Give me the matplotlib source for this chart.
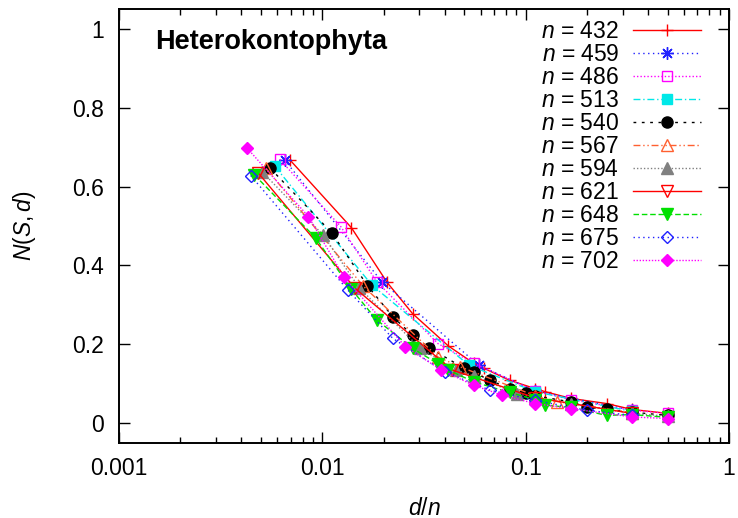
import matplotlib
matplotlib.use('Agg')
import matplotlib.pyplot as plt
import numpy as np

plt.rcParams['font.family'] = ['Liberation Sans', 'DejaVu Sans']
plt.rcParams['mathtext.fontset'] = 'custom'
plt.rcParams['mathtext.rm'] = 'Liberation Sans'
plt.rcParams['mathtext.it'] = 'Liberation Sans:italic'

# sequence lengths n, distances d (divisors of n) and N(S,d)
ns = [432, 459, 486, 513, 540, 567, 594, 621, 648, 675, 702]
d_432 = [3, 6, 9, 12, 18, 24, 27, 36, 48, 54, 72, 108, 144, 216]
N_432 = [0.667, 0.496, 0.357, 0.278, 0.196, 0.152, 0.139, 0.109, 0.088, 0.080, 0.063, 0.050, 0.035, 0.025]
d_459 = [3, 9, 27, 51, 153]
N_459 = [0.667, 0.359, 0.147, 0.082, 0.033]
d_486 = [3, 6, 9, 18, 27, 54, 81, 162, 243]
N_486 = [0.669, 0.498, 0.359, 0.202, 0.152, 0.082, 0.060, 0.033, 0.025]
d_513 = [3, 9, 27, 57, 171]
N_513 = [0.651, 0.350, 0.147, 0.080, 0.030]
d_540 = [3, 6, 9, 12, 15, 18, 27, 30, 36, 45, 54, 60, 90, 108, 135, 180, 270]
N_540 = [0.646, 0.483, 0.349, 0.270, 0.223, 0.192, 0.139, 0.129, 0.109, 0.088, 0.077, 0.070, 0.054, 0.041, 0.035, 0.028, 0.020]
d_567 = [3, 9, 21, 27, 63, 81, 189]
N_567 = [0.646, 0.348, 0.168, 0.143, 0.070, 0.055, 0.027]
d_594 = [3, 6, 9, 18, 27, 33, 54, 66, 99, 198, 297]
N_594 = [0.638, 0.477, 0.344, 0.190, 0.135, 0.120, 0.075, 0.065, 0.050, 0.025, 0.018]
d_621 = [3, 9, 27, 69, 207]
N_621 = [0.635, 0.342, 0.135, 0.065, 0.025]
d_648 = [3, 6, 9, 12, 18, 24, 27, 36, 54, 72, 81, 108, 162, 216, 324]
N_648 = [0.630, 0.470, 0.340, 0.262, 0.190, 0.151, 0.135, 0.105, 0.078, 0.060, 0.046, 0.040, 0.020, 0.022, 0.015]
d_675 = [3, 9, 15, 27, 45, 75, 135, 225]
N_675 = [0.628, 0.338, 0.215, 0.130, 0.084, 0.058, 0.033, 0.020]
d_702 = [3, 6, 9, 18, 27, 39, 54, 78, 117, 234, 351]
N_702 = [0.697, 0.524, 0.370, 0.194, 0.135, 0.096, 0.071, 0.050, 0.037, 0.016, 0.012]

ds = [d_432, d_459, d_486, d_513, d_540, d_567, d_594, d_621, d_648, d_675, d_702]
Ns = [N_432, N_459, N_486, N_513, N_540, N_567, N_594, N_621, N_648, N_675, N_702]

# gnuplot-like styles: color, linestyle, marker, filled, size
styles = [
    ('#ff0000', '-', '+', True, 9),
    ('#2020ff', (0, (1, 2.5)), (8, 2, 0), True, 9),
    ('#ff00ff', (0, (1, 1.5)), 's', False, 7.5),
    ('#00e8e8', (0, (5, 2, 1, 2)), 's', True, 7.5),
    ('#000000', (0, (2, 4)), 'o', True, 8),
    ('#ff6030', (0, (5, 2, 1, 2, 1, 2)), '^', False, 8),
    ('#808080', (0, (1, 1.5)), '^', True, 8),
    ('#ff0000', '-', 'v', False, 8),
    ('#00e000', (0, (4, 2)), 'v', True, 8),
    ('#2020ff', (0, (1, 2.5)), 'D', False, 6.5),
    ('#ff00ff', (0, (1, 1.2)), 'D', True, 6.5),
]

fs = 16.5

fig = plt.figure(figsize=(7.38, 5.18), dpi=100)
ax = fig.add_axes([0.1612, 0.1448, 0.8266, 0.8378])

for n, d, N, (c, ls, m, filled, ms) in zip(ns, ds, Ns, styles):
    x = np.array(d) / n
    ax.plot(x, N, color=c, linestyle=ls, linewidth=1.0, marker=m, markersize=ms,
            markerfacecolor=c if filled else 'none', markeredgecolor=c,
            markeredgewidth=1.0, label=r'$n$ = %d' % n)

ax.set_xscale('log')
ax.set_xlim(0.001, 1)
ax.set_ylim(-0.05, 1.05)
ax.set_yticks([0, 0.2, 0.4, 0.6, 0.8, 1])
ax.set_yticklabels(['0', '0.2', '0.4', '0.6', '0.8', '1'])
ax.set_xticks([0.001, 0.01, 0.1, 1])
ax.set_xticklabels(['0.001', '0.01', '0.1', '1'])
ax.tick_params(which='both', direction='in', top=True, right=True, labelsize=fs)
ax.tick_params(which='major', length=8, width=1)
ax.tick_params(which='minor', length=4, width=1)
ax.tick_params(axis='y', pad=11)
ax.tick_params(axis='x', pad=10)
for s in ax.spines.values():
    s.set_linewidth(1.4)

ax.set_xlabel(r'$d/n$', fontsize=fs, labelpad=12)
ax.set_ylabel(r'$N(S,d)$', fontsize=fs, labelpad=24)
ax.text(0.059, 0.925, 'Heterokontophyta', transform=ax.transAxes, fontsize=19.5,
        fontweight='bold', va='center', ha='left')

ax.legend(loc='upper right', frameon=False, markerfirst=False, fontsize=fs,
          handlelength=2.97, labelspacing=0.0, borderaxespad=0, borderpad=0,
          handletextpad=0.6, bbox_to_anchor=(0.954, 0.975))

fig.savefig('out.png', dpi=100)
